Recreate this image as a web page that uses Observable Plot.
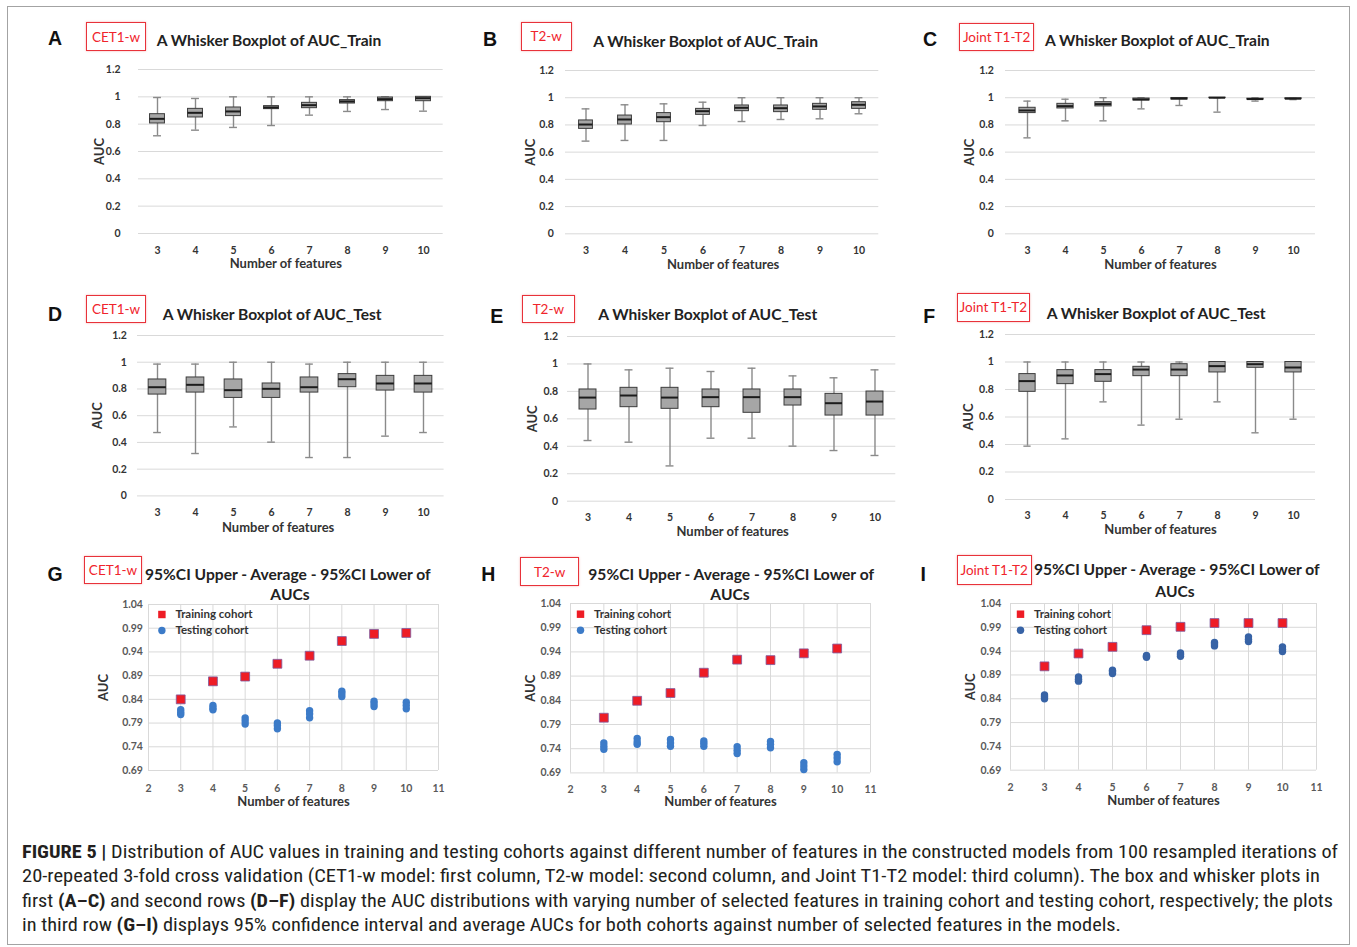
<!DOCTYPE html>
<html><head><meta charset="utf-8">
<script src="https://cdn.jsdelivr.net/npm/d3@7"></script>
<script src="https://cdn.jsdelivr.net/npm/@observablehq/plot@0.6"></script>
<style>
body{margin:0;background:#fff;}
#fig{position:relative;width:1357px;height:947px;overflow:hidden;background:#fff;font-family:Lato,sans-serif;}
.frame{position:absolute;left:7px;top:6px;width:1343px;height:939px;border:1px solid #a3a3a3;box-sizing:border-box;}
.letter{position:absolute;font-family:"Liberation Sans",Arial,sans-serif;font-weight:bold;font-size:19.5px;color:#111;transform:translate(-50%,-50%);line-height:1;}
.tag{position:absolute;box-sizing:border-box;border:1px solid #e8323a;color:#f0242c;font-family:Lato,sans-serif;font-size:13.5px;display:flex;align-items:center;justify-content:center;box-shadow:0 0 2px rgba(240,110,110,0.55);background:#fff;}
.title{position:absolute;font-family:Lato,sans-serif;font-weight:bold;font-size:15.6px;color:#222;white-space:nowrap;transform:translateY(-50%);line-height:1;}
.ctitle{position:absolute;font-family:Lato,sans-serif;font-weight:bold;font-size:15.6px;color:#222;white-space:nowrap;transform:translate(-50%,-50%);line-height:1;}
.pw{position:absolute;}
.capline{position:absolute;white-space:nowrap;font-family:"Liberation Sans Narrow","Roboto Condensed","Liberation Sans",Arial,sans-serif;font-size:17.5px;line-height:24.5px;color:#231f20;transform-origin:0 0;}
.capline b{font-weight:bold;}
</style>
</head><body><div id="fig"><div class="frame"></div></div>
<script>
// ---------- shared categories / tick labels ----------
const features = [3, 4, 5, 6, 7, 8, 9, 10];
const boxYTicks = [0, 0.2, 0.4, 0.6, 0.8, 1, 1.2];
const sXTicks = [2, 3, 4, 5, 6, 7, 8, 9, 10, 11];
const sYTicks = [0.69, 0.74, 0.79, 0.84, 0.89, 0.94, 0.99, 1.04];

// ---------- A: CET1-w, AUC_Train ----------
const aMin = [0.715, 0.756, 0.776, 0.790, 0.866, 0.893, 0.907, 0.895];
const aQ1  = [0.805, 0.849, 0.859, 0.910, 0.917, 0.951, 0.968, 0.968];
const aMed = [0.839, 0.883, 0.893, 0.922, 0.939, 0.966, 0.983, 0.990];
const aQ3  = [0.873, 0.912, 0.922, 0.932, 0.956, 0.976, 0.995, 1.000];
const aMax = [0.995, 0.988, 1.000, 1.000, 1.000, 1.000, 1.000, 1.000];
// ---------- B: T2-w, AUC_Train ----------
const bMin = [0.681, 0.686, 0.686, 0.796, 0.825, 0.840, 0.845, 0.882];
const bQ1  = [0.771, 0.803, 0.820, 0.874, 0.901, 0.894, 0.911, 0.918];
const bMed = [0.803, 0.840, 0.857, 0.901, 0.926, 0.923, 0.936, 0.948];
const bQ3  = [0.833, 0.869, 0.887, 0.918, 0.943, 0.943, 0.955, 0.967];
const bMax = [0.918, 0.948, 0.955, 0.967, 1.000, 1.000, 1.000, 1.000];
// ---------- C: Joint T1-T2, AUC_Train ----------
const cMin = [0.705, 0.830, 0.830, 0.918, 0.943, 0.894, 0.975, 0.986];
const cQ1  = [0.887, 0.921, 0.936, 0.980, 0.987, 0.998, 0.986, 0.990];
const cMed = [0.906, 0.938, 0.953, 0.987, 0.994, 1.000, 0.990, 0.993];
const cQ3  = [0.926, 0.955, 0.967, 0.994, 0.998, 1.000, 0.993, 0.996];
const cMax = [0.975, 0.989, 1.000, 1.000, 1.000, 1.000, 1.000, 0.998];
// ---------- D: CET1-w, AUC_Test ----------
const dMin = [0.474, 0.317, 0.516, 0.402, 0.287, 0.287, 0.447, 0.474];
const dQ1  = [0.758, 0.773, 0.733, 0.733, 0.773, 0.813, 0.788, 0.773];
const dMed = [0.813, 0.831, 0.791, 0.801, 0.813, 0.873, 0.841, 0.841];
const dQ3  = [0.871, 0.886, 0.871, 0.841, 0.886, 0.911, 0.898, 0.898];
const dMax = [0.986, 0.986, 1.000, 1.000, 0.986, 1.000, 1.000, 1.000];
// ---------- E: T2-w, AUC_Test ----------
const eMin = [0.442, 0.430, 0.257, 0.459, 0.459, 0.401, 0.369, 0.333];
const eQ1  = [0.668, 0.685, 0.673, 0.685, 0.644, 0.697, 0.624, 0.624];
const eMed = [0.755, 0.770, 0.755, 0.758, 0.758, 0.758, 0.714, 0.726];
const eQ3  = [0.814, 0.826, 0.826, 0.814, 0.814, 0.814, 0.782, 0.799];
const eMax = [1.000, 0.957, 0.969, 0.945, 0.969, 0.913, 0.899, 0.957];
// ---------- F: Joint T1-T2, AUC_Test ----------
const fMin = [0.388, 0.441, 0.710, 0.541, 0.584, 0.710, 0.485, 0.584];
const fQ1  = [0.783, 0.839, 0.856, 0.897, 0.897, 0.924, 0.958, 0.924];
const fMed = [0.861, 0.902, 0.912, 0.945, 0.945, 0.970, 0.984, 0.960];
const fQ3  = [0.912, 0.941, 0.941, 0.965, 0.984, 1.000, 1.000, 1.000];
const fMax = [1.000, 1.000, 1.000, 1.000, 1.000, 1.000, 1.000, 1.000];
// ---------- G: CET1-w, 95%CI ----------
const gTrain     = [0.840, 0.878, 0.888, 0.915, 0.932, 0.963, 0.978, 0.980];
const gTestUpper = [0.818, 0.827, 0.801, 0.790, 0.816, 0.857, 0.836, 0.834];
const gTestAvg   = [0.813, 0.822, 0.795, 0.785, 0.809, 0.852, 0.831, 0.827];
const gTestLower = [0.808, 0.818, 0.788, 0.778, 0.801, 0.846, 0.825, 0.820];
// ---------- H: T2-w, 95%CI ----------
const hTrain     = [0.804, 0.839, 0.855, 0.897, 0.924, 0.923, 0.937, 0.947];
const hTestUpper = [0.752, 0.761, 0.759, 0.756, 0.744, 0.755, 0.711, 0.728];
const hTestAvg   = [0.745, 0.754, 0.752, 0.751, 0.737, 0.749, 0.704, 0.721];
const hTestLower = [0.739, 0.749, 0.745, 0.745, 0.730, 0.742, 0.697, 0.713];
// ---------- I: Joint T1-T2, 95%CI ----------
const iTrain     = [0.908, 0.935, 0.949, 0.984, 0.991, 0.999, 0.999, 0.999];
const iTestUpper = [0.848, 0.886, 0.900, 0.931, 0.936, 0.958, 0.970, 0.949];
const iTestAvg   = [0.844, 0.881, 0.897, 0.929, 0.933, 0.955, 0.965, 0.944];
const iTestLower = [0.840, 0.877, 0.893, 0.927, 0.929, 0.951, 0.960, 0.939];

const captionLines = [
  '<b>FIGURE 5 |</b> Distribution of AUC values in training and testing cohorts against different number of features in the constructed models from 100 resampled iterations of',
  '20-repeated 3-fold cross validation (CET1-w model: first column, T2-w model: second column, and Joint T1-T2 model: third column). The box and whisker plots in',
  'first <b>(A–C)</b> and second rows <b>(D–F)</b> display the AUC distributions with varying number of selected features in training cohort and testing cohort, respectively; the plots',
  'in third row <b>(G–I)</b> displays 95% confidence interval and average AUCs for both cohorts against number of selected features in the models.'
];

// ---------- layout ----------
const fig = document.getElementById("fig");
function add(cls, html, style) {
  const d = document.createElement("div");
  d.className = cls; d.innerHTML = html;
  Object.assign(d.style, style);
  fig.appendChild(d);
  return d;
}
const ML = 62, MR = 12, MT = 12, MB = 44;
const svgStyle = {fontFamily: "Lato, sans-serif", background: "transparent", overflow: "visible", maxWidth: "none"};

function placeChart(chart, L, T) {
  const w = document.createElement("div");
  w.className = "pw";
  w.style.left = (L - ML) + "px";
  w.style.top = (T - MT) + "px";
  w.appendChild(chart);
  fig.appendChild(w);
}

function decorate(p) {
  add("letter", p.letter, {left: p.letterPos[0] + "px", top: p.letterPos[1] + "px"});
  const [x1, y1, x2, y2] = p.tagBox;
  add("tag", p.tag, {left: x1 + "px", top: y1 + "px", width: (x2 - x1) + "px", height: (y2 - y1) + "px"});
  add("title", p.title, {left: p.titlePos[0] + "px", top: p.titlePos[1] + "px"});
  if (p.title2) add("ctitle", p.title2, {left: p.title2Pos[0] + "px", top: p.title2Pos[1] + "px"});
}

function axisLabels(p) {
  return [
    Plot.text(["Number of features"], {text: d => d, frameAnchor: "bottom", lineAnchor: "middle", textAnchor: "middle", dy: p.xlabDy, dx: p.xlabDx, fontWeight: "bold", fontSize: 13, fill: "#333"}),
    Plot.text(["AUC"], {text: d => d, frameAnchor: "left", lineAnchor: "middle", textAnchor: "middle", dx: -p.ylabDx, rotate: -90, fontWeight: "bold", fontSize: 13, fill: "#333"})
  ];
}

function boxPlot(p) {
  const rows = features.map((n, i) => ({n, min: p.min[i], q1: p.q1[i], med: p.med[i], q3: p.q3[i], max: p.max[i]}));
  const fw = p.R - p.L, fh = p.B - p.T;
  const step = fw / features.length;
  const inset = (step - p.boxW) / 2, capInset = (step - 8) / 2;
  const whisk = {stroke: "#8a8a8a", strokeWidth: 1.4};
  const chart = Plot.plot({
    width: fw + ML + MR, height: fh + MT + MB,
    marginLeft: ML, marginRight: MR, marginTop: MT, marginBottom: MB,
    style: svgStyle,
    x: {type: "band", domain: features, padding: 0, axis: null, label: null},
    y: {domain: [0, 1.2], axis: null, label: null},
    marks: [
      Plot.ruleY(boxYTicks, {stroke: "#d9d9d9", strokeWidth: 1}),
      Plot.ruleX(rows, {x: "n", y1: "min", y2: "max", ...whisk}),
      Plot.tickY(rows, {x: "n", y: "min", ...whisk, insetLeft: capInset, insetRight: capInset}),
      Plot.tickY(rows, {x: "n", y: "max", ...whisk, insetLeft: capInset, insetRight: capInset}),
      Plot.barY(rows, {x: "n", y1: "q1", y2: "q3", fill: "#a6a6a6", stroke: "#3c3c3c", strokeWidth: 1, insetLeft: inset, insetRight: inset}),
      Plot.tickY(rows, {x: "n", y: "med", stroke: "#1c1c1c", strokeWidth: 2, insetLeft: inset, insetRight: inset}),
      Plot.axisY(boxYTicks, {tickSize: 0, tickPadding: p.yPad, tickFormat: d => String(+d.toFixed(1)), fontWeight: "bold", fontSize: 10.5, fill: "#333", label: null}),
      Plot.axisX(features, {tickSize: 0, tickPadding: p.xPad, fontWeight: "bold", fontSize: 10.5, fill: "#333", label: null}),
      ...axisLabels(p)
    ]
  });
  placeChart(chart, p.L, p.T);
  decorate(p);
}

function scatterPlot(p) {
  const train = features.map((n, i) => ({n, v: p.train[i]}));
  const test = [];
  features.forEach((n, i) => {
    test.push({n, v: p.lower[i]}, {n, v: p.upper[i]}, {n, v: p.avg[i]});
  });
  const fw = p.R - p.L, fh = p.B - p.T;
  const red = "#ee1c25", redStroke = "#7d5a9e";
  const chart = Plot.plot({
    width: fw + ML + MR, height: fh + MT + MB,
    marginLeft: ML, marginRight: MR, marginTop: MT, marginBottom: MB,
    style: svgStyle,
    x: {domain: [2, 11], axis: null, label: null},
    y: {domain: [0.69, 1.04], axis: null, label: null},
    marks: [
      Plot.ruleX(sXTicks, {stroke: "#d9d9d9", strokeWidth: 1}),
      Plot.ruleY(sYTicks, {stroke: "#d9d9d9", strokeWidth: 1}),
      Plot.dot(test, {x: "n", y: "v", r: 3.7, fill: p.testColor}),
      Plot.dot(train, {x: "n", y: "v", symbol: "square", r: 5, fill: red, stroke: redStroke, strokeWidth: 0.8}),
      Plot.axisY(sYTicks, {tickSize: 0, tickPadding: p.yPad, tickFormat: d => d.toFixed(2), fontWeight: "bold", fontSize: 10.5, fill: "#595959", label: null}),
      Plot.axisX(sXTicks, {tickSize: 0, tickPadding: p.xPad, fontWeight: "bold", fontSize: 10.5, fill: "#595959", label: null}),
      ...axisLabels(p),
      // legend
      Plot.dot(["Training cohort"], {frameAnchor: "top-left", dx: p.legDx, dy: p.legDy, symbol: "square", r: 4.2, fill: red}),
      Plot.dot(["Testing cohort"], {frameAnchor: "top-left", dx: p.legDx, dy: p.legDy + 16, r: 3.7, fill: p.testColor}),
      Plot.text(["Training cohort"], {text: d => d, frameAnchor: "top-left", lineAnchor: "middle", textAnchor: "start", dx: p.legDx + 13.5, dy: p.legDy, fontWeight: "bold", fontSize: 11.5, fill: "#333"}),
      Plot.text(["Testing cohort"], {text: d => d, frameAnchor: "top-left", lineAnchor: "middle", textAnchor: "start", dx: p.legDx + 13.5, dy: p.legDy + 16, fontWeight: "bold", fontSize: 11.5, fill: "#333"})
    ]
  });
  placeChart(chart, p.L, p.T);
  decorate(p);
}

const trainTitle = "A Whisker Boxplot of AUC_Train";
const testTitle = "A Whisker Boxplot of AUC_Test";
const ciTitle = "95%CI Upper - Average - 95%CI Lower of";

boxPlot({letter: "A", tag: "CET1-w", title: trainTitle, min: aMin, q1: aQ1, med: aMed, q3: aQ3, max: aMax,
  L: 138.3, R: 443, T: 69.3, B: 233.3, boxW: 15, yPad: 18, xPad: 13, xlabDy: 30.7, xlabDx: -5, ylabDx: 39,
  letterPos: [55, 38.5], tagBox: [86, 22, 146, 51], titlePos: [156.7, 41]});
boxPlot({letter: "B", tag: "T2-w", title: trainTitle, min: bMin, q1: bQ1, med: bMed, q3: bQ3, max: bMax,
  L: 565, R: 878.3, T: 70, B: 233.3, boxW: 14, yPad: 11.7, xPad: 13, xlabDy: 31, xlabDx: 1, ylabDx: 35,
  letterPos: [490, 40], tagBox: [520.7, 21.7, 571.7, 50.7], titlePos: [593.3, 41.7]});
boxPlot({letter: "C", tag: "Joint T1-T2", title: trainTitle, min: cMin, q1: cQ1, med: cMed, q3: cQ3, max: cMax,
  L: 1005, R: 1315, T: 70, B: 233.3, boxW: 17, yPad: 11.7, xPad: 13, xlabDy: 31, xlabDx: 0, ylabDx: 35.7,
  letterPos: [930, 40], tagBox: [959.3, 22.7, 1034, 50.7], titlePos: [1045, 41]});
boxPlot({letter: "D", tag: "CET1-w", title: testTitle, min: dMin, q1: dQ1, med: dMed, q3: dQ3, max: dMax,
  L: 136.7, R: 443.3, T: 335.3, B: 495.7, boxW: 18, yPad: 10.7, xPad: 12.5, xlabDy: 31.6, xlabDx: -12.7, ylabDx: 40,
  letterPos: [55, 315], tagBox: [86, 295, 146, 323.3], titlePos: [162.7, 315]});
boxPlot({letter: "E", tag: "T2-w", title: testTitle, min: eMin, q1: eQ1, med: eMed, q3: eQ3, max: eMax,
  L: 566.7, R: 895, T: 336, B: 500.7, boxW: 17, yPad: 9.4, xPad: 12.5, xlabDy: 30.5, xlabDx: 1, ylabDx: 35,
  letterPos: [496.7, 316.7], tagBox: [521.7, 295, 575, 323.3], titlePos: [598.3, 315]});
boxPlot({letter: "F", tag: "Joint T1-T2", title: testTitle, min: fMin, q1: fQ1, med: fMed, q3: fQ3, max: fMax,
  L: 1005, R: 1315, T: 334.3, B: 499.3, boxW: 17, yPad: 11.7, xPad: 12.5, xlabDy: 30, xlabDx: 0, ylabDx: 36.7,
  letterPos: [929.3, 316.7], tagBox: [956.7, 292.7, 1030, 321.7], titlePos: [1046.7, 314]});

scatterPlot({letter: "G", tag: "CET1-w", title: ciTitle, title2: "AUCs", train: gTrain, upper: gTestUpper, avg: gTestAvg, lower: gTestLower,
  testColor: "#3c7bc8", L: 148.3, R: 438.3, T: 604, B: 770, yPad: 5.6, xPad: 14, xlabDy: 31, xlabDx: 0, ylabDx: 44.3,
  legDx: 13.4, legDy: 10, letterPos: [55, 575], tagBox: [84.3, 556, 141.7, 584], titlePos: [145, 575], title2Pos: [290, 595]});
scatterPlot({letter: "H", tag: "T2-w", title: ciTitle, title2: "AUCs", train: hTrain, upper: hTestUpper, avg: hTestAvg, lower: hTestLower,
  testColor: "#3c7bc8", L: 570, R: 870, T: 603.3, B: 772.7, yPad: 9.3, xPad: 12.5, xlabDy: 28.5, xlabDx: 0, ylabDx: 39.3,
  legDx: 10, legDy: 10.7, letterPos: [488.3, 575], tagBox: [520, 557.3, 579.3, 586], titlePos: [588.3, 575], title2Pos: [730, 595]});
scatterPlot({letter: "I", tag: "Joint T1-T2", title: ciTitle, title2: "AUCs", train: iTrain, upper: iTestUpper, avg: iTestAvg, lower: iTestLower,
  testColor: "#3763a6", L: 1010, R: 1316, T: 603.3, B: 770, yPad: 9.3, xPad: 13.5, xlabDy: 31, xlabDx: 0, ylabDx: 40,
  legDx: 10, legDy: 10.7, letterPos: [923.3, 575], tagBox: [956.7, 555, 1031.7, 585], titlePos: [1034, 570], title2Pos: [1175, 591.7]});

// ---------- caption ----------
const capWidths = [1316, 1298, 1311, 1099];
captionLines.forEach((html, i) => {
  const d = add("capline", html, {left: "22px", top: (839.5 + i * 24.5) + "px"});
  const w = d.getBoundingClientRect().width;
  d.style.transform = `scaleX(${capWidths[i] / w})`;
});
</script>
</body></html>
